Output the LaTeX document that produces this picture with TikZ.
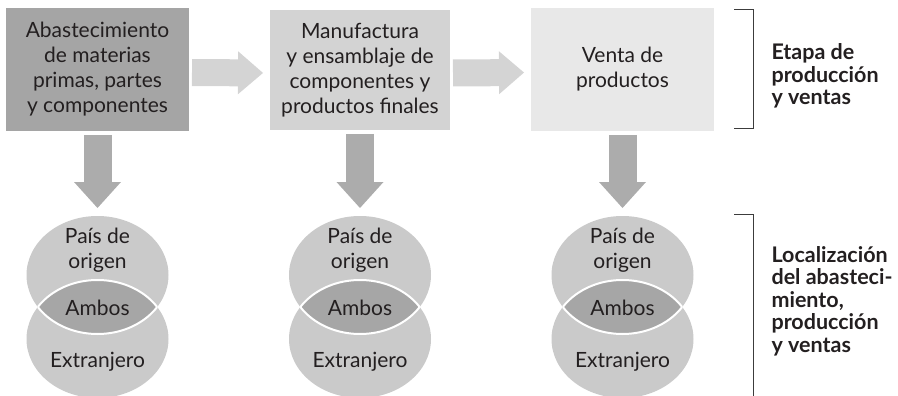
\documentclass[tikz,border=0pt]{standalone}
\usepackage{fontspec}
\setmainfont{Lato}
\usepackage{tikz}
\usetikzlibrary{arrows.meta,positioning,shapes.geometric}
\definecolor{gray1}{RGB}{165,165,165}
\definecolor{gray2}{RGB}{211,211,211}
\definecolor{gray3}{RGB}{232,232,232}
\definecolor{arrow1}{RGB}{212,212,212}
\definecolor{arrow2}{RGB}{172,172,172}
\definecolor{venn1}{RGB}{202,202,202}
\definecolor{venn2}{RGB}{166,166,166}
\definecolor{text1}{RGB}{35,31,32}
\definecolor{line1}{RGB}{60,60,60}
\tikzset{
  stage/.style={rectangle, inner sep=0pt, outer sep=0pt, align=center, text=text1,
    font=\fontsize{21}{25}\selectfont},
  flow/.style={arrow1, line width=27pt, -{Triangle[width=43pt,length=25pt,line width=0pt]},
    shorten <=3pt, shorten >=7pt},
  drop/.style={arrow2, line width=28pt, -{Triangle[width=47pt,length=26pt,line width=0pt]},
    shorten <=4pt, shorten >=8pt},
  venn/.style={ellipse, fill=venn1, inner sep=0pt, outer sep=0pt,
    minimum width=142pt, minimum height=118pt},
  vtext/.style={text=text1, align=center, font=\fontsize{21}{24.5}\selectfont},
  side/.style={anchor=west, align=left, text=text1,
    font=\fontsize{21.5}{22.5}\selectfont\bfseries},
}

\begin{document}
\begin{tikzpicture}[x=1pt,y=-1pt]
    \useasboundingbox (0,0) rectangle (898,396);
    % Stage boxes
    \node[stage, fill=gray1, minimum width=183pt, minimum height=123pt] (abast) at (97.5,69.5)
        {Abastecimiento\\de materias\\primas, partes\\y componentes};
    \node[stage, fill=gray2, minimum width=180pt, minimum height=120pt] (manuf) at (360,70)
        {Manufactura\\y ensamblaje de\\componentes y\\productos finales};
    \node[stage, fill=gray3, minimum width=183pt, minimum height=123pt] (venta) at (622.5,69.5)
        {Venta de\\productos};
    % Flow arrows
    \draw[flow] ([yshift=-3pt]abast.east) -- ([yshift=-3pt]manuf.west);
    \draw[flow] ([yshift=-3pt]manuf.east) -- ([yshift=-3pt]venta.west);
    % Location diagrams
    \foreach \x/\b in {97.5/abast,360/manuf,622.5/venta}{
        \node[venn] (top\b) at (\x,275) {};
        \node[venn] (bot\b) at (\x,339) {};
        \begin{scope}
            \clip (\x,275) ellipse [x radius=71, y radius=59];
            \fill[venn2] (\x,339) ellipse [x radius=71, y radius=59];
            \draw[white, line width=2pt] (\x,339) ellipse [x radius=71, y radius=59];
        \end{scope}
        \begin{scope}
            \clip (\x,339) ellipse [x radius=71, y radius=59];
            \draw[white, line width=2pt] (\x,275) ellipse [x radius=71, y radius=59];
        \end{scope}
        \node[vtext] (home\b) at (\x,250) {País de\\origen};
        \node[vtext] (both\b) at (\x,308) {Ambos};
        \node[vtext] (abroad\b) at (\x,362) {Extranjero};
        \draw[drop] (\b.south) -- (top\b.north);
    }
    % Brackets
    \draw[line1, line width=1pt] (734,10) -- (753,10) -- (753,129) -- (734,129);
    \draw[line1, line width=1pt] (734,214) -- (753,214) -- (753,398);
    % Side labels
    \node[side] (etapa) at (768,76) {Etapa de\\producción\\y ventas};
    \node[side] (local) at (768,301) {Localización\\del abasteci-\\miento,\\producción\\y ventas};
\end{tikzpicture}
\end{document}
